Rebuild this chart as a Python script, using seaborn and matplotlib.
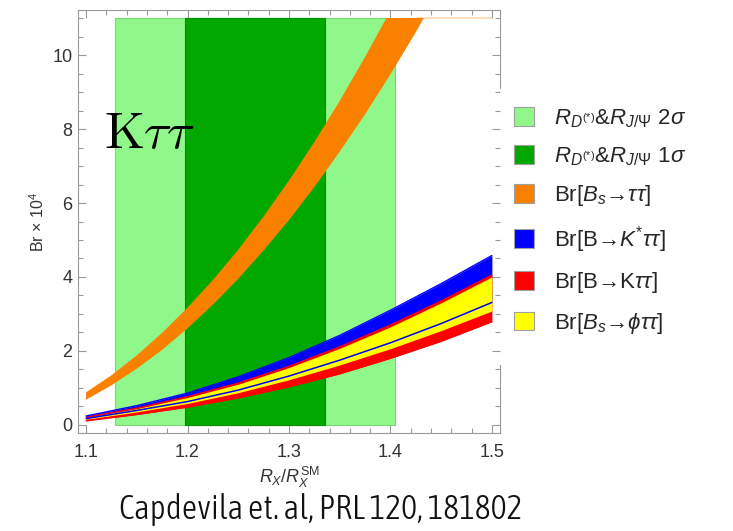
import numpy as np
import matplotlib
matplotlib.use("Agg")
import matplotlib.pyplot as plt
import seaborn as sns
from matplotlib.patches import Patch, Rectangle
from matplotlib.ticker import MultipleLocator
from matplotlib import font_manager as fm

# ---- data ----
# Br[Bs -> tau tau] band (read every 0.025)
orange_x = [1.100, 1.125, 1.150, 1.175, 1.200, 1.225, 1.250, 1.275, 1.300,
            1.325, 1.350, 1.375, 1.400, 1.425, 1.450, 1.475, 1.500]
bs_tautau_hi = [0.88, 1.34, 1.88, 2.49, 3.17, 3.92, 4.74, 5.64, 6.61,
                7.65, 8.76, 9.95, 11.2, 12.53, 13.9, 15.4, 16.95]
bs_tautau_lo = [0.68, 1.07, 1.52, 2.03, 2.61, 3.25, 3.95, 4.72, 5.54,
                6.43, 7.39, 8.40, 9.48, 10.62, 11.83, 13.09, 14.4]

# lower bands (read every 0.05)
r_ratio = [1.10, 1.15, 1.20, 1.25, 1.30, 1.35, 1.40, 1.45, 1.50]
kstar_hi = [0.24, 0.52, 0.86, 1.30, 1.82, 2.42, 3.10, 3.82, 4.58]
kstar_lo = [0.17, 0.39, 0.63, 0.94, 1.32, 1.75, 2.22, 2.74, 3.31]
k_hi = [0.21, 0.45, 0.76, 1.13, 1.58, 2.11, 2.70, 3.35, 4.05]
k_lo = [0.11, 0.28, 0.48, 0.73, 1.03, 1.38, 1.80, 2.26, 2.79]
phi_hi = [0.20, 0.44, 0.74, 1.10, 1.55, 2.07, 2.65, 3.30, 4.00]
phi_lo = [0.15, 0.35, 0.58, 0.87, 1.22, 1.62, 2.06, 2.55, 3.08]

band_2sigma = [1.1285, 1.4045]
band_1sigma = [1.197, 1.3357]
band_y = [0.0, 11.0]

x_ticks = [1.1, 1.2, 1.3, 1.4, 1.5]
y_ticks = [0, 2, 4, 6, 8, 10]

legend_labels = [
    r"$R_{D^{(*)}}$&$R_{J/\Psi}$ 2$\sigma$",
    r"$R_{D^{(*)}}$&$R_{J/\Psi}$ 1$\sigma$",
    r"Br[$B_s$→$\tau\tau$]",
    r"Br[B→$K^{*}\tau\tau$]",
    r"Br[B→K$\tau\tau$]",
    r"Br[$B_s$→$\phi\tau\tau$]",
]
caption = "Capdevila et. al, PRL 120, 181802"

c_light = "#90F88A"
c_dark = "#00A800"
c_orange = "#FA8000"
c_blue = "#0000FF"
c_red = "#FF0000"
c_yellow = "#FFFF00"

# ---- style ----
sns.set_theme(style="ticks")
plt.rcParams["font.family"] = ["Liberation Sans", "DejaVu Sans"]
plt.rcParams["mathtext.fontset"] = "custom"
plt.rcParams["mathtext.rm"] = "Liberation Sans"
plt.rcParams["mathtext.it"] = "Liberation Sans:italic"
plt.rcParams["mathtext.bf"] = "Liberation Sans:bold"

fig = plt.figure(figsize=(7.33, 5.31), dpi=100)
ax = fig.add_axes([78 / 733, 98 / 531, 422 / 733, 423 / 531])

top = band_y[1]
clip_rect = Rectangle((1.0, -1.0), 1.0, top + 1.0, transform=ax.transData)

# sigma bands
ax.fill_between(band_2sigma, band_y[0], band_y[1], color=c_light,
                edgecolor="#78d878", lw=0.8, zorder=1)
ax.fill_between(band_1sigma, band_y[0], band_y[1], color=c_dark,
                edgecolor="#009000", lw=0.8, zorder=2)

# Bs -> tau tau (clipped at plot range y = 11)
ox = np.array(orange_x)
olo = np.array(bs_tautau_lo)
ofill = ax.fill_between(ox, olo, bs_tautau_hi, color=c_orange, lw=0, zorder=3)
ofill.set_clip_path(clip_rect)
mask = olo >= top - 1.0
sns.lineplot(x=ox[mask], y=np.full(mask.sum(), top), ax=ax, color=c_orange,
             alpha=0.3, lw=1.2, zorder=2.9, legend=False)

# lower bands
x = np.array(r_ratio)
ax.fill_between(x, kstar_lo, kstar_hi, color=c_blue, lw=0, zorder=4)
ax.fill_between(x, k_lo, k_hi, color=c_red, lw=0, zorder=5)
ax.fill_between(x, phi_lo, phi_hi, color=c_yellow, lw=0, zorder=6)

sns.lineplot(x=x, y=k_hi, ax=ax, color=c_red, lw=1.0, zorder=7, legend=False)
sns.lineplot(x=x, y=k_lo, ax=ax, color=c_red, lw=1.0, zorder=7, legend=False)
sns.lineplot(x=x, y=kstar_lo, ax=ax, color=c_blue, lw=1.1, zorder=8, legend=False)
sns.lineplot(x=x, y=kstar_hi, ax=ax, color=c_blue, lw=1.0, zorder=8, legend=False)

# axes
ax.set_xlim(1.092, 1.508)
ax.set_ylim(-0.22, 11.22)
ax.set_xticks(x_ticks)
ax.set_xticklabels([f"{v:.1f}" for v in x_ticks])
ax.set_yticks(y_ticks)
ax.xaxis.set_minor_locator(MultipleLocator(0.02))
ax.yaxis.set_minor_locator(MultipleLocator(0.5))
ax.tick_params(which="both", direction="in", top=True, right=True,
               color="#999999", width=0.8, labelcolor="#333333", labelsize=13)
ax.tick_params(which="major", length=6)
ax.tick_params(which="minor", length=3.5)
ax.tick_params(axis="x", pad=8)
ax.tick_params(axis="y", pad=4)
for s in ax.spines.values():
    s.set_color("#999999")
    s.set_linewidth(0.8)
ax.spines["right"].set_bounds(-0.22, 1.62)
ax.axvline(1.508, ymin=(9.1 + 0.22) / 11.44, ymax=1, color="#999999",
           lw=0.8, clip_on=False, zorder=10)

ax.set_ylabel(r"Br $\times$ 10$^4$", fontsize=11.5, color="#333333", labelpad=4)
ax.set_xlabel(r"$R_X/R_X^{\mathrm{SM}}$", fontsize=13, color="#333333", labelpad=3)

# big annotation
ax.text(1.1175, 7.5, r"$\mathrm{K}\tau\tau$", fontsize=37, color="black",
        math_fontfamily="cm", ha="left", va="baseline", zorder=12)

# legend
handles = [Patch(facecolor=c, edgecolor="#a0a0a0", lw=0.8)
           for c in [c_light, c_dark, c_orange, c_blue, c_red, c_yellow]]
fig.legend(handles, legend_labels, loc="upper left",
           bbox_to_anchor=(514 / 733, 1 - 107 / 531), frameon=False,
           fontsize=16, handlelength=0.9, handleheight=0.9,
           handletextpad=0.9, labelspacing=0.7, borderaxespad=0,
           borderpad=0)


# caption font: lightest non-bold condensed face, else a light regular face
def _w(e):
    wt = e.weight
    if isinstance(wt, str):
        wt = fm.weight_dict.get(wt, 400)
    return int(wt)


def _is_cond(e):
    st = str(e.stretch).lower()
    return ("condensed" in e.name.lower() or "narrow" in e.name.lower()
            or ("condensed" in st and "semi" not in st))


entries = [e for e in fm.fontManager.ttflist
           if e.style == "normal" and "mono" not in e.name.lower()
           and "serif" not in e.name.lower()]
cond = [e for e in entries if _is_cond(e) and _w(e) <= 400]
if cond:
    pick = min(cond, key=lambda e: abs(_w(e) - 300))
else:
    light = [e for e in entries if e.name in ("Open Sans", "Roboto", "Lato")
             and _w(e) <= 400 and not _is_cond(e)]
    pick = min(light, key=lambda e: abs(_w(e) - 300)) if light else None
cap_fp = (fm.FontProperties(fname=pick.fname, size=22) if pick
          else fm.FontProperties(family="Liberation Sans", size=22))

cap = fig.text(0.437, 0.022, caption, fontproperties=cap_fp,
               ha="center", va="baseline", color="#111111")
fig.canvas.draw()
w = cap.get_window_extent().width
cap.set_fontsize(22 * 404 / w)

fig.savefig("out.png", dpi=100)
